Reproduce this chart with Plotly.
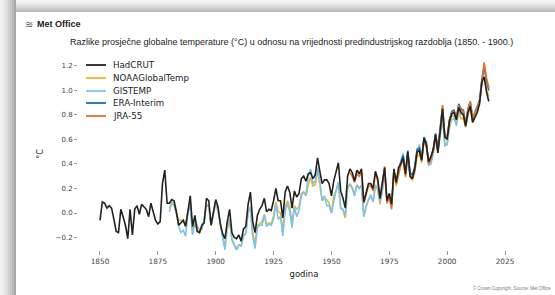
import plotly.graph_objects as go

# ---------------- data ----------------
had_years = list(range(1850, 2019))
hadcrut = [-0.06, 0.09, 0.08, 0.04, 0.06, 0.04, -0.05, -0.15, -0.16, 0.03,
           -0.03, -0.10, -0.21, 0.03, -0.18, 0.03, 0.06, -0.01, 0.07, 0.05,
           0.03, -0.03, 0.08, 0.01, -0.06, -0.09, -0.07, 0.24, 0.35, 0.08,
           0.08, 0.11, 0.10, 0.01, -0.10, -0.08, -0.06, -0.11, 0.00, 0.14,
           -0.11, -0.02, -0.15, -0.16, -0.10, -0.08, 0.12, 0.10, -0.10, 0.02,
           0.11, 0.05, -0.09, -0.17, -0.21, -0.07, 0.03, -0.16, -0.20, -0.21,
           -0.18, -0.23, -0.13, -0.11, 0.07, 0.17, -0.07, -0.16, -0.02, 0.03,
           0.06, 0.12, 0.01, 0.03, 0.02, 0.10, 0.20, 0.10, 0.10, -0.04,
           0.17, 0.22, 0.17, 0.04, 0.18, 0.13, 0.16, 0.28, 0.30, 0.26,
           0.32, 0.33, 0.28, 0.31, 0.45, 0.34, 0.24, 0.27, 0.27, 0.24,
           0.14, 0.26, 0.34, 0.41, 0.18, 0.12, 0.04, 0.30, 0.36, 0.33,
           0.26, 0.35, 0.32, 0.36, 0.09, 0.17, 0.24, 0.24, 0.20, 0.34,
           0.28, 0.12, 0.25, 0.37, 0.10, 0.16, 0.07, 0.36, 0.25, 0.37,
           0.40, 0.45, 0.32, 0.50, 0.30, 0.28, 0.36, 0.50, 0.51, 0.43,
           0.61, 0.56, 0.42, 0.46, 0.52, 0.64, 0.49, 0.70, 0.85, 0.62,
           0.60, 0.75, 0.81, 0.82, 0.76, 0.86, 0.82, 0.80, 0.71, 0.82,
           0.87, 0.74, 0.78, 0.82, 0.89, 1.07, 1.11, 0.99, 0.91]

noaa_years = list(range(1880, 2019))
noaa = [0.04, 0.08, 0.06, 0.00, -0.06, -0.06, -0.06, -0.10, 0.01, 0.06,
        -0.17, -0.09, -0.14, -0.16, -0.13, -0.07, 0.07, 0.05, -0.10, 0.00,
        0.07, 0.02, -0.09, -0.20, -0.28, -0.13, -0.06, -0.21, -0.26, -0.29,
        -0.26, -0.27, -0.18, -0.17, 0.00, 0.05, -0.17, -0.24, -0.10, -0.09,
        -0.07, -0.01, -0.10, -0.08, -0.09, -0.02, 0.09, 0.01, 0.00, -0.15,
        0.05, 0.10, 0.05, -0.08, 0.06, 0.03, 0.05, 0.16, 0.17, 0.14,
        0.23, 0.29, 0.22, 0.23, 0.35, 0.23, 0.10, 0.12, 0.11, 0.08,
        0.00, 0.14, 0.18, 0.25, 0.04, 0.02, -0.04, 0.20, 0.24, 0.21,
        0.15, 0.23, 0.20, 0.23, -0.03, 0.05, 0.11, 0.14, 0.09, 0.23,
        0.19, 0.07, 0.18, 0.32, 0.08, 0.14, 0.05, 0.33, 0.22, 0.32,
        0.39, 0.44, 0.29, 0.47, 0.29, 0.27, 0.33, 0.46, 0.48, 0.41,
        0.58, 0.54, 0.39, 0.42, 0.49, 0.61, 0.49, 0.66, 0.79, 0.57,
        0.56, 0.70, 0.76, 0.77, 0.73, 0.82, 0.77, 0.77, 0.70, 0.80,
        0.86, 0.74, 0.78, 0.83, 0.90, 1.06, 1.11, 1.01, 0.95]

gis_years = list(range(1880, 2019))
gistemp = [0.01, 0.09, 0.07, 0.00, -0.11, -0.16, -0.14, -0.19, 0.00, 0.07,
           -0.18, -0.05, -0.10, -0.14, -0.13, -0.05, 0.06, 0.06, -0.10, 0.00,
           0.09, 0.02, -0.11, -0.20, -0.30, -0.09, -0.05, -0.22, -0.26, -0.31,
           -0.26, -0.27, -0.19, -0.17, 0.02, 0.03, -0.19, -0.29, -0.12, -0.10,
           -0.10, -0.02, -0.11, -0.09, -0.10, -0.05, 0.07, -0.05, -0.03, -0.19,
           0.01, 0.08, 0.01, -0.12, 0.05, -0.03, 0.02, 0.14, 0.17, 0.15,
           0.30, 0.36, 0.24, 0.26, 0.37, 0.26, 0.10, 0.14, 0.06, 0.06,
           0.00, 0.10, 0.18, 0.25, 0.04, 0.03, -0.02, 0.22, 0.23, 0.20,
           0.14, 0.23, 0.20, 0.22, -0.03, 0.06, 0.11, 0.15, 0.09, 0.22,
           0.20, 0.09, 0.18, 0.33, 0.10, 0.16, 0.07, 0.35, 0.24, 0.33,
           0.43, 0.49, 0.31, 0.48, 0.33, 0.29, 0.35, 0.49, 0.56, 0.44,
           0.62, 0.58, 0.39, 0.40, 0.49, 0.62, 0.50, 0.63, 0.78, 0.55,
           0.56, 0.71, 0.80, 0.79, 0.71, 0.85, 0.81, 0.83, 0.71, 0.82,
           0.89, 0.78, 0.81, 0.85, 0.92, 1.07, 1.18, 1.09, 1.02]

era_years = list(range(1979, 2019))
era_interim = [0.35, 0.42, 0.47, 0.33, 0.51, 0.33, 0.31, 0.38, 0.52, 0.53,
               0.45, 0.62, 0.57, 0.41, 0.45, 0.52, 0.65, 0.53, 0.68, 0.86,
               0.62, 0.62, 0.76, 0.83, 0.84, 0.78, 0.89, 0.85, 0.84, 0.73,
               0.85, 0.91, 0.77, 0.82, 0.87, 0.92, 1.09, 1.20, 1.08, 1.00]

jra_years = list(range(1958, 2019))
jra55 = [0.33, 0.30, 0.25, 0.32, 0.30, 0.33, 0.08, 0.14, 0.22, 0.22,
         0.18, 0.33, 0.26, 0.12, 0.24, 0.38, 0.08, 0.13, 0.03, 0.34,
         0.24, 0.33, 0.40, 0.44, 0.30, 0.49, 0.30, 0.28, 0.35, 0.50,
         0.50, 0.43, 0.60, 0.55, 0.40, 0.44, 0.51, 0.64, 0.51, 0.68,
         0.88, 0.63, 0.62, 0.76, 0.82, 0.83, 0.76, 0.88, 0.84, 0.83,
         0.72, 0.85, 0.91, 0.77, 0.81, 0.86, 0.91, 1.10, 1.23, 1.10, 1.02]

x_ticks = [1850, 1875, 1900, 1925, 1950, 1975, 2000, 2025]
y_ticks = [-0.2, 0.0, 0.2, 0.4, 0.6, 0.8, 1.0, 1.2]
y_tick_labels = ["−0.2", "0.0", "0.2", "0.4", "0.6", "0.8", "1.0", "1.2"]

title_text = "Razlike prosječne globalne temperature (°C) u odnosu na vrijednosti predindustrijskog razdoblja (1850. - 1900.)"
x_title = "godina"
y_title = "°C"
logo_text = "Met Office"
copyright_text = "© Crown Copyright. Source: Met Office"

legend_names = ["HadCRUT", "NOAAGlobalTemp", "GISTEMP", "ERA-Interim", "JRA-55"]
legend_colors = ["#222222", "#e9b43c", "#7dc4ea", "#1f6ea8", "#e0722b"]

# ---------------- figure ----------------
W, H = 555, 295
L, R, T, B = 78, 25, 58, 45
PW, PH = W - L - R, H - T - B


def px(xp):
    return (xp - L) / PW


def py(yp):
    return 1 - (yp - T) / PH


fig = go.Figure()

series = [
    ("NOAAGlobalTemp", noaa_years, noaa, legend_colors[1]),
    ("GISTEMP", gis_years, gistemp, legend_colors[2]),
    ("ERA-Interim", era_years, era_interim, legend_colors[3]),
    ("JRA-55", jra_years, jra55, legend_colors[4]),
    ("HadCRUT", had_years, hadcrut, legend_colors[0]),
]
for name, xs, ys, col in series:
    fig.add_trace(go.Scatter(
        x=xs, y=ys, mode="lines", name=name,
        line=dict(color=col, width=1.6),
        showlegend=False,
    ))

shapes = []
# grey page shadow (left and top)
left_grays = ["#f4f4f4", "#eeeeee", "#e6e6e6", "#dddddd", "#d2d2d2", "#c6c6c6", "#b8b8b8", "#a9a9a9"]
for i, c in enumerate(left_grays):
    shapes.append(dict(type="rect", xref="paper", yref="paper", layer="below",
                       x0=px(i * 2), x1=px(i * 2 + 2), y0=py(H), y1=py(0),
                       fillcolor=c, line=dict(width=0)))
top_grays = ["#f6f6f6", "#eeeeee", "#e4e4e4", "#d8d8d8", "#cbcbcb", "#bdbdbd"]
for i, c in enumerate(top_grays):
    shapes.append(dict(type="rect", xref="paper", yref="paper", layer="below",
                       x0=px(16), x1=px(W), y0=py(i * 2 + 2), y1=py(i * 2),
                       fillcolor=c, line=dict(width=0)))

annotations = [
    dict(text=logo_text, x=px(35), y=py(24), xref="paper", yref="paper",
         xanchor="left", yanchor="middle", showarrow=False,
         font=dict(family="Liberation Sans, Arial", size=9, color="#222222", weight=600)),
    dict(text="≋", x=px(23), y=py(24), xref="paper", yref="paper",
         xanchor="left", yanchor="middle", showarrow=False,
         font=dict(family="DejaVu Sans", size=10, color="#555555")),
    dict(text=title_text, x=px(291), y=py(42), xref="paper", yref="paper",
         xanchor="center", yanchor="middle", showarrow=False,
         font=dict(family="Liberation Sans, Arial", size=9, color="#222222")),
    dict(text=copyright_text, x=px(553), y=py(288), xref="paper", yref="paper",
         xanchor="right", yanchor="middle", showarrow=False,
         font=dict(family="Liberation Sans, Arial", size=4.5, color="#777777")),
]

# compact legend drawn by hand (matplotlib-style spacing)
leg_y = [65, 78, 91, 103, 116]
for name, col, yy in zip(legend_names, legend_colors, leg_y):
    shapes.append(dict(type="line", xref="paper", yref="paper",
                       x0=px(86), x1=px(106), y0=py(yy), y1=py(yy),
                       line=dict(color=col, width=1.8)))
    annotations.append(dict(text=name, x=px(111), y=py(yy), xref="paper", yref="paper",
                            xanchor="left", yanchor="middle", showarrow=False,
                            font=dict(family="DejaVu Sans", size=8.7, color="#222222")))

fig.update_layout(
    width=W, height=H,
    margin=dict(l=L, r=R, t=T, b=B, pad=0),
    paper_bgcolor="white", plot_bgcolor="white",
    showlegend=False,
    shapes=shapes,
    annotations=annotations,
    xaxis=dict(range=[1840.5, 2035.8], tickvals=x_ticks, ticktext=[str(v) for v in x_ticks],
               automargin=False,
               showgrid=False, zeroline=False, showline=False,
               ticks="outside", ticklen=4, tickcolor="#999999", tickwidth=0.8,
               tickfont=dict(family="DejaVu Sans", size=7.3, color="#444444"),
               title=dict(text=x_title, standoff=6,
                          font=dict(family="DejaVu Sans", size=8.5, color="#222222"))),
    yaxis=dict(range=[-0.302, 1.265], tickvals=y_ticks, ticktext=y_tick_labels,
               automargin=False,
               showgrid=False, zeroline=False, showline=False,
               ticks="outside", ticklen=3, tickcolor="#999999", tickwidth=0.8,
               tickfont=dict(family="DejaVu Sans", size=7, color="#444444"),
               title=dict(text=y_title, standoff=10,
                          font=dict(family="DejaVu Sans", size=8, color="#222222"))),
)

fig.write_html(
    "out.html",
    config={"displayModeBar": False},
    post_script="document.body.style.margin='0';document.body.style.padding='0';",
)
